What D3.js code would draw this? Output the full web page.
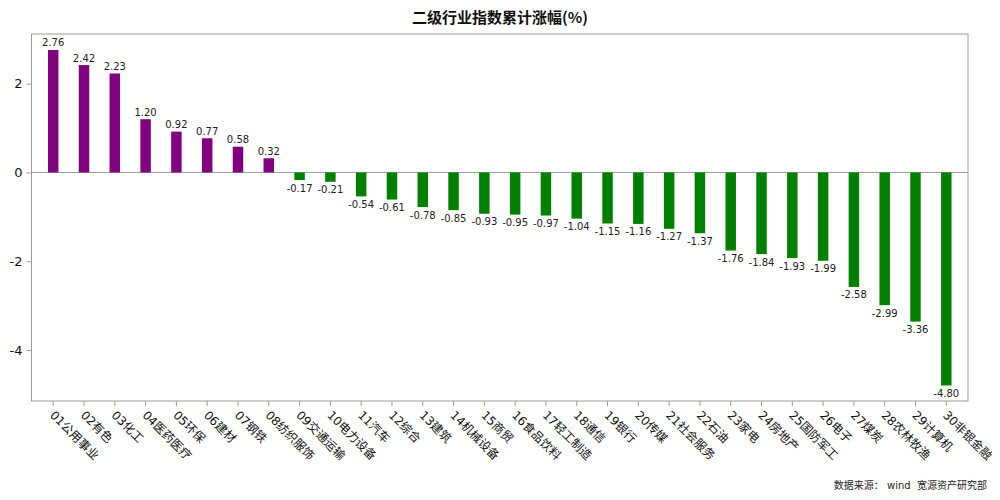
<!DOCTYPE html>
<html><head><meta charset="utf-8">
<script src="https://cdn.jsdelivr.net/npm/d3@7"></script>
<style>
body{margin:0;background:#fff;}
svg{display:block;font-family:"DejaVu Sans","Noto Sans CJK SC",sans-serif;}
</style></head>
<body>
<svg id="chart" width="1000" height="500"></svg>
<script>
const categories = ["01公用事业","02有色","03化工","04医药医疗","05环保","06建材","07钢铁","08纺织服饰","09交通运输","10电力设备","11汽车","12综合","13建筑","14机械设备","15商贸","16食品饮料","17轻工制造","18通信","19银行","20传媒","21社会服务","22石油","23家电","24房地产","25国防军工","26电子","27煤炭","28农林牧渔","29计算机","30非银金融"];
const values = [2.76,2.42,2.23,1.20,0.92,0.77,0.58,0.32,-0.17,-0.21,-0.54,-0.61,-0.78,-0.85,-0.93,-0.95,-0.97,-1.04,-1.15,-1.16,-1.27,-1.37,-1.76,-1.84,-1.93,-1.99,-2.58,-2.99,-3.36,-4.80];
const yTicks = [-4,-2,0,2];
const title = "二级行业指数累计涨幅(%)";
const source = "数据来源： wind  宽源资产研究部";

const L = 31.5, R = 968, T = 34, B = 401;
const svg = d3.select("#chart");
const x = d3.scaleBand().domain(categories).range([L, R]).paddingInner(0.66).paddingOuter(0.535);
const y = d3.scaleLinear().domain([-5.15, 3.12]).range([B, T]);
const grey = "#9a9a9a";

// frame
svg.append("rect").attr("x", L).attr("y", T).attr("width", R - L).attr("height", B - T)
  .attr("fill", "none").attr("stroke", grey).attr("stroke-width", 1);

// zero line
svg.append("line").attr("x1", L).attr("x2", R).attr("y1", y(0)).attr("y2", y(0))
  .attr("stroke", grey).attr("stroke-width", 1);

// y axis
const yAxis = svg.append("g").attr("transform", `translate(${L},0)`)
  .call(d3.axisLeft(y).tickValues(yTicks).tickSize(5).tickPadding(4).tickFormat(d => String(d)));
yAxis.select(".domain").remove();
yAxis.selectAll(".tick line").attr("stroke", grey);
yAxis.selectAll(".tick text").attr("font-size", 13).attr("fill", "#111").attr("font-family", "DejaVu Sans");

// x axis
const xAxis = svg.append("g").attr("transform", `translate(0,${B})`)
  .call(d3.axisBottom(x).tickSize(5).tickFormat(""));
xAxis.select(".domain").remove();
xAxis.selectAll(".tick line").attr("stroke", grey);
xAxis.selectAll(".tick").append("text")
  .attr("transform", "translate(-1,12) rotate(45)")
  .attr("dy", "0.35em")
  .attr("text-anchor", "start")
  .attr("font-size", 12)
  .attr("fill", "#111")
  .attr("font-family", "DejaVu Sans, Noto Sans CJK SC")
  .text(d => d);

// bars
const data = categories.map((c, i) => ({c, v: values[i]}));
svg.append("g").selectAll("rect").data(data).join("rect")
  .attr("x", d => x(d.c))
  .attr("width", x.bandwidth())
  .attr("y", d => y(Math.max(0, d.v)))
  .attr("height", d => Math.abs(y(d.v) - y(0)))
  .attr("fill", d => d.v >= 0 ? "#800080" : "#008000");

// value labels
svg.append("g").selectAll("text").data(data).join("text")
  .attr("x", d => x(d.c) + x.bandwidth() / 2)
  .attr("y", d => d.v >= 0 ? y(d.v) - 3.5 : y(d.v) + 11.5)
  .attr("text-anchor", "middle")
  .attr("font-size", 10)
  .attr("fill", "#222")
  .text(d => d.v.toFixed(2));

// title
svg.append("text").attr("x", 500).attr("y", 23).attr("text-anchor", "middle")
  .attr("font-size", 15).attr("font-weight", "bold").attr("fill", "#111")
  .attr("font-family", "Noto Sans CJK SC, DejaVu Sans")
  .text(title);

// source
svg.append("text").attr("x", 987).attr("y", 489).attr("text-anchor", "end")
  .attr("font-size", 10).attr("fill", "#222")
  .style("white-space", "pre")
  .attr("font-family", "DejaVu Sans, Noto Sans CJK SC")
  .text(source);
</script>
</body></html>
